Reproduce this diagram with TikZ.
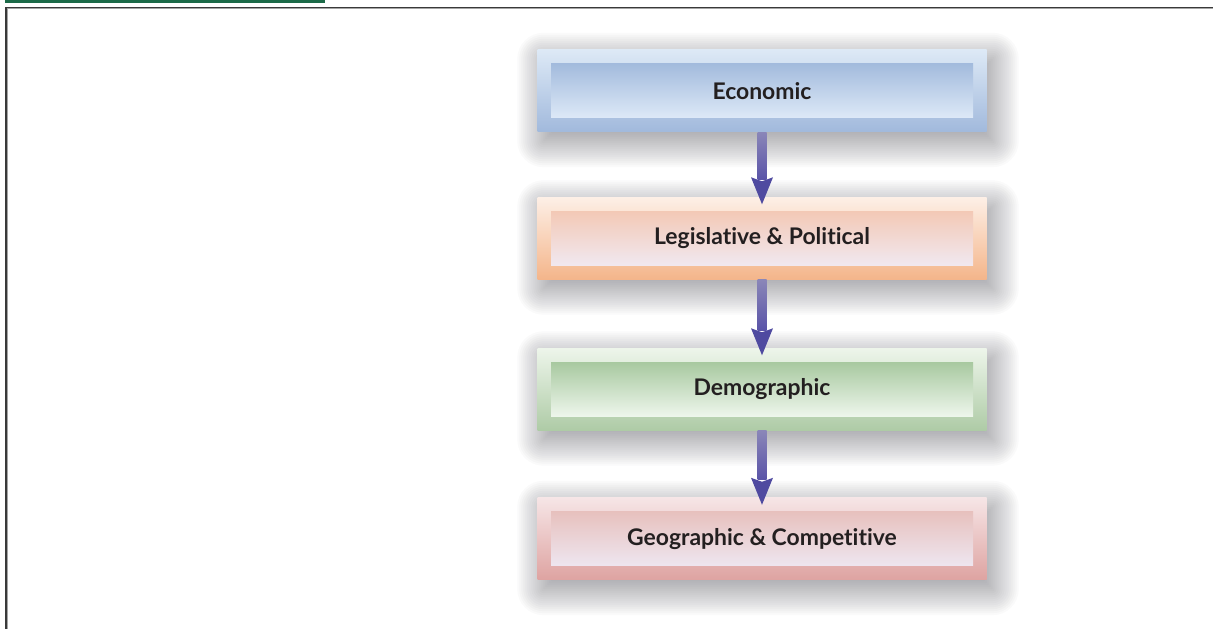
\documentclass[tikz,border=0pt]{standalone}
\usepackage{fontspec}
\setmainfont{Lato}[Ligatures=NoCommon]
\usetikzlibrary{calc,backgrounds}
\definecolor{barGreen}{HTML}{1C6A48}
\definecolor{frameDark}{HTML}{3A3A3A}
\definecolor{frameGray}{HTML}{A5A5A5}
\definecolor{txt}{HTML}{231F20}
\definecolor{shadowCol}{HTML}{3A3A44}
\definecolor{ecoOutT}{HTML}{DDE9F6}\definecolor{ecoOutB}{HTML}{A1B9DC}
\definecolor{ecoInT}{HTML}{A3BBDD}\definecolor{ecoInB}{HTML}{DDE9F7}
\definecolor{legOutT}{HTML}{FDEFE6}\definecolor{legOutB}{HTML}{F4B58A}
\definecolor{legInT}{HTML}{F3C9B6}\definecolor{legInB}{HTML}{F1E8F0}
\definecolor{demOutT}{HTML}{EDF5EA}\definecolor{demOutB}{HTML}{AECBA6}
\definecolor{demInT}{HTML}{A8C9A0}\definecolor{demInB}{HTML}{EEF6EC}
\definecolor{geoOutT}{HTML}{F6E5E6}\definecolor{geoOutB}{HTML}{DEA3A1}
\definecolor{geoInT}{HTML}{E7C1BE}\definecolor{geoInB}{HTML}{EEE6F0}
\definecolor{shaftT}{HTML}{8A86B8}
\definecolor{shaftB}{HTML}{5A54A8}
\definecolor{headCol}{HTML}{4F4AA0}
\tikzset{
  outerbox/.style={minimum width=449bp, minimum height=82bp, inner sep=0pt},
  innerbox/.style={minimum width=422bp, minimum height=54bp, inner sep=0pt,
    font=\fontsize{23}{27}\selectfont\bfseries, text=txt},
  shadowlayer/.style={fill=shadowCol, fill opacity=0.024},
}
\newcommand{\boxshadow}[1]{%
  \foreach \e [evaluate=\e as \r using {max(\e,0)+0.01}] in {-26,-24,...,26}{%
    \fill[shadowlayer, rounded corners=\r bp]
      ($(#1.south west)+(6-\e,-9-\e)$) rectangle ($(#1.north east)+(6+\e,-9+\e)$);
  }%
}
\newcommand{\flowarrow}[2]{%
  \shade[top color=shaftT, bottom color=shaftB]
    ($(#1.south)+(-4.5,0)$) rectangle ($(#2.north)+(4.5,18)$);
  \fill[headCol] ($(#2.north)+(0,-7)$) -- ($(#2.north)+(-11,20)$) -- ($(#2.north)+(0,16)$)
    -- ($(#2.north)+(11,20)$) -- cycle;
}
\begin{document}
\begin{tikzpicture}[x=1bp,y=1bp]
\useasboundingbox (0,0) rectangle (1213,629);
\clip (0,0) rectangle (1213,629);
% boxes
\node[outerbox, top color=ecoOutT, bottom color=ecoOutB] (eo) at (762,538) {};
\node[innerbox, top color=ecoInT, bottom color=ecoInB] (ei) at (eo.center) {Economic};
\node[outerbox, top color=legOutT, bottom color=legOutB] (lo) at (762,390.5) {};
\node[innerbox, top color=legInT, bottom color=legInB] (li) at (lo.center) {Legislative \& Political};
\node[outerbox, top color=demOutT, bottom color=demOutB] (do) at (762,239.5) {};
\node[innerbox, top color=demInT, bottom color=demInB] (di) at (do.center) {Demographic};
\node[outerbox, top color=geoOutT, bottom color=geoOutB] (go) at (762,90) {};
\node[innerbox, top color=geoInT, bottom color=geoInB] (gi) at (go.center) {Geographic \& Competitive};
% background, frame and shadows
\begin{scope}[on background layer]
  \fill[white] (0,0) rectangle (1213,629);
  \fill[barGreen] (5,626) rectangle (325,629);
  \draw[frameDark, line width=1.3bp] (6,-50) -- (6,621.4) -- (1300,621.4);
  \draw[frameGray, line width=0.9bp] (7.3,-50) -- (7.3,620.1) -- (1300,620.1);
  \boxshadow{eo}
  \boxshadow{lo}
  \boxshadow{do}
  \boxshadow{go}
\end{scope}
% arrows
\flowarrow{eo}{lo}
\flowarrow{lo}{do}
\flowarrow{do}{go}
\end{tikzpicture}
\end{document}
